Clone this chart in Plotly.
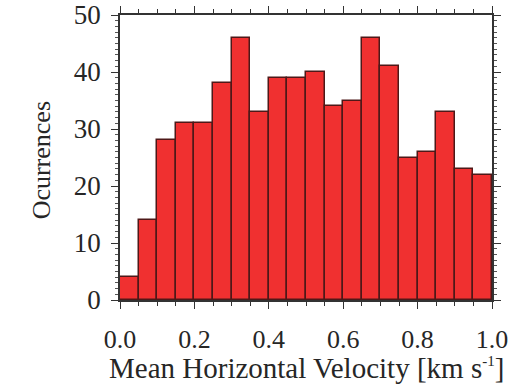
import plotly.graph_objects as go

# Histogram of mean horizontal velocity (bins of 0.05 km/s)
bin_starts = [0.00, 0.05, 0.10, 0.15, 0.20, 0.25, 0.30, 0.35, 0.40, 0.45,
              0.50, 0.55, 0.60, 0.65, 0.70, 0.75, 0.80, 0.85, 0.90, 0.95]
bin_width = 0.05
counts = [4, 14, 28, 31, 31, 38, 46, 33, 39, 39,
          40, 34, 35, 46, 41, 25, 26, 33, 23, 22]

x_title = "Mean Horizontal Velocity [km s<sup><span style='font-size:15px'>-1</span></sup>]"
y_title = "Ocurrences"

centers = [b + bin_width / 2 for b in bin_starts]

fig = go.Figure(go.Bar(
    x=centers,
    y=counts,
    width=[bin_width] * len(counts),
    marker=dict(color="#F03030", line=dict(color="#4E1818", width=1.5)),
))

font = dict(family="Liberation Serif, Times New Roman, serif", color="#262626")

fig.update_layout(
    width=518, height=387,
    margin=dict(l=120, r=26, t=15, b=87),
    paper_bgcolor="white", plot_bgcolor="white",
    showlegend=False,
    font=dict(size=26, **font),
    bargap=0,
)

fig.update_xaxes(
    range=[0, 1], dtick=0.2, tickformat=".1f", automargin=False,
    showgrid=False, zeroline=False,
    showline=True, linecolor="#333333", linewidth=1.5, mirror="allticks",
    ticks="outside", ticklen=7, tickwidth=1.2, tickcolor="#333333",
    minor=dict(dtick=0.05, ticks="outside", ticklen=4, tickcolor="#333333"),
    ticklabelstandoff=8,
    tickfont=dict(size=26, **font),
)
fig.update_yaxes(
    range=[0, 50], dtick=10, automargin=False,
    showgrid=False, zeroline=False,
    showline=True, linecolor="#333333", linewidth=1.5, mirror="allticks",
    ticks="outside", ticklen=7, tickwidth=1.2, tickcolor="#333333",
    minor=dict(dtick=1, ticks="outside", ticklen=3, tickcolor="#555555"),
    ticklabelstandoff=5,
    tickfont=dict(size=27, **font),
)

# Axis titles placed as annotations so the plot area stays fixed
fig.add_annotation(text=x_title, xref="paper", yref="paper", x=0.5, y=0,
                   xanchor="center", yanchor="middle", yshift=-68,
                   showarrow=False, font=dict(size=29, **font))
fig.add_annotation(text=y_title, xref="paper", yref="paper", x=0, y=0.49,
                   xanchor="center", yanchor="middle", xshift=-79, textangle=-90,
                   showarrow=False, font=dict(size=26, **font))

fig.write_html("out.html")
